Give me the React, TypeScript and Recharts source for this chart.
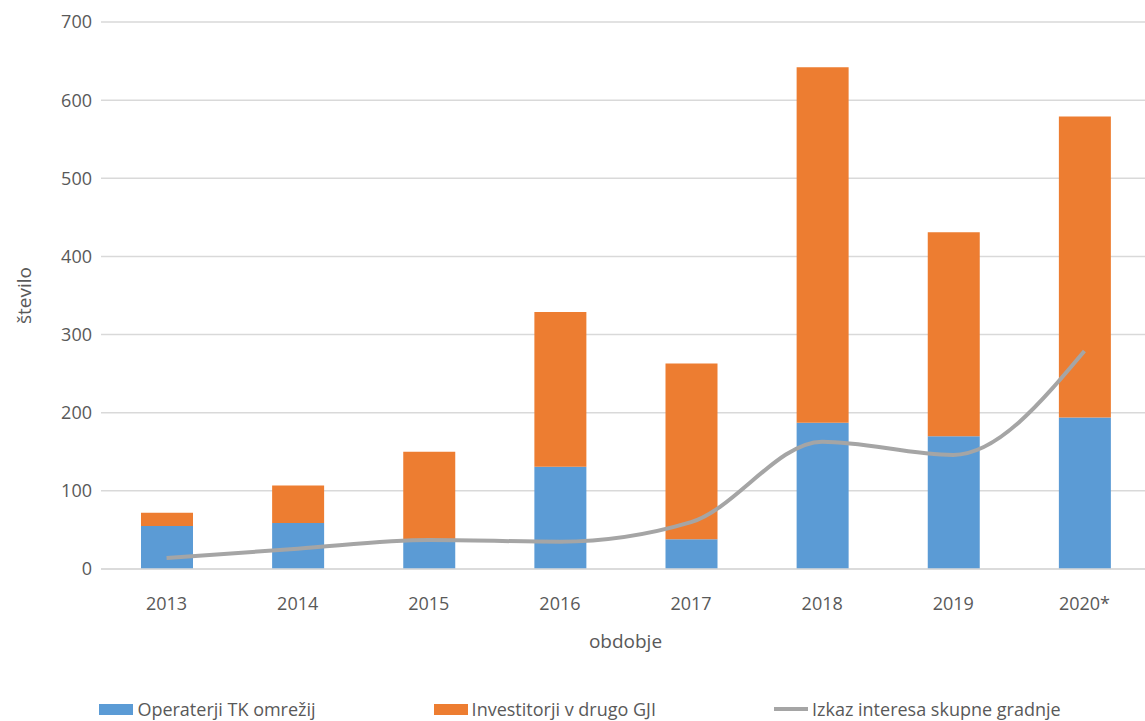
import {
  ComposedChart,
  Bar,
  Line,
  XAxis,
  YAxis,
  CartesianGrid,
  Legend,
} from 'recharts';

const years = ['2013', '2014', '2015', '2016', '2017', '2018', '2019', '2020*'];
const operaterji = [55, 59, 38, 131, 38, 187, 170, 194];
const investitorji = [17, 48, 112, 198, 225, 455, 261, 385];
const izkaz = [14, 26, 37, 35, 60, 163, 146, 279];
const yTicks = [0, 100, 200, 300, 400, 500, 600, 700];

const BLUE = '#5b9bd5';
const ORANGE = '#ed7d31';
const GRAY = '#a5a5a5';
const TEXT = '#595959';
const FONT = '"Open Sans", "Noto Sans", sans-serif';

const data = years.map((year, i) => ({
  year,
  operaterji: operaterji[i],
  investitorji: investitorji[i],
  izkaz: izkaz[i],
}));

// legenda ročno, da so razmiki kot v originalu
function LegendContent() {
  const items = [
    { label: 'Operaterji TK omrežij', color: BLUE, kind: 'rect' },
    { label: 'Investitorji v drugo GJI', color: ORANGE, kind: 'rect' },
    { label: 'Izkaz interesa skupne gradnje', color: GRAY, kind: 'line' },
  ];
  return (
    <div
      style={{
        display: 'flex',
        justifyContent: 'center',
        alignItems: 'flex-end',
        gap: 118,
        height: 30,
        paddingLeft: 10,
        fontFamily: FONT,
        fontSize: 18,
        color: TEXT,
      }}
    >
      {items.map(it => (
        <div key={it.label} style={{ display: 'flex', alignItems: 'center' }}>
          <svg width={34} height={14} style={{ marginRight: 4 }}>
            {it.kind === 'rect' ? (
              <rect x={0} y={2} width={34} height={11} fill={it.color} />
            ) : (
              <line x1={0} y1={7} x2={34} y2={7} stroke={it.color} strokeWidth={4} />
            )}
          </svg>
          <span>{it.label}</span>
        </div>
      ))}
    </div>
  );
}

export default function App() {
  return (
    <div
      style={{
        position: 'absolute',
        left: 0,
        top: 0,
        width: 1145,
        height: 721,
        overflow: 'hidden',
        background: '#fff',
      }}
    >
      <ComposedChart
        width={1150}
        height={721}
        data={data}
        margin={{ top: 22, right: 0, bottom: 0, left: 0 }}
        barCategoryGap={0}
      >
        <CartesianGrid vertical={false} stroke="#d9d9d9" strokeWidth={1.5} />
        <XAxis
          dataKey="year"
          height={122}
          tickLine={false}
          tickSize={0}
          tickMargin={28}
          axisLine={{ stroke: '#d9d9d9', strokeWidth: 1.5 }}
          tick={{ fontSize: 18, fill: TEXT, fontFamily: FONT }}
          label={{
            value: 'obdobje',
            position: 'insideTop',
            offset: 66,
            style: { fontSize: 19, fill: TEXT, fontFamily: FONT },
          }}
        />
        <YAxis
          width={101}
          domain={[0, 700]}
          ticks={yTicks}
          axisLine={false}
          tickLine={false}
          tickSize={0}
          tickMargin={9}
          tick={{ fontSize: 18, fill: TEXT, fontFamily: FONT }}
          label={{
            value: 'število',
            angle: -90,
            position: 'insideLeft',
            offset: 24,
            style: { fontSize: 19, fill: TEXT, fontFamily: FONT, textAnchor: 'middle' },
          }}
        />
        <Legend verticalAlign="bottom" height={30} content={<LegendContent />} />
        <Bar dataKey="operaterji" stackId="a" fill={BLUE} barSize={52} isAnimationActive={false} />
        <Bar dataKey="investitorji" stackId="a" fill={ORANGE} barSize={52} isAnimationActive={false} />
        <Line
          type="monotone"
          dataKey="izkaz"
          stroke={GRAY}
          strokeWidth={4}
          dot={false}
          activeDot={false}
          isAnimationActive={false}
        />
      </ComposedChart>
    </div>
  );
}
